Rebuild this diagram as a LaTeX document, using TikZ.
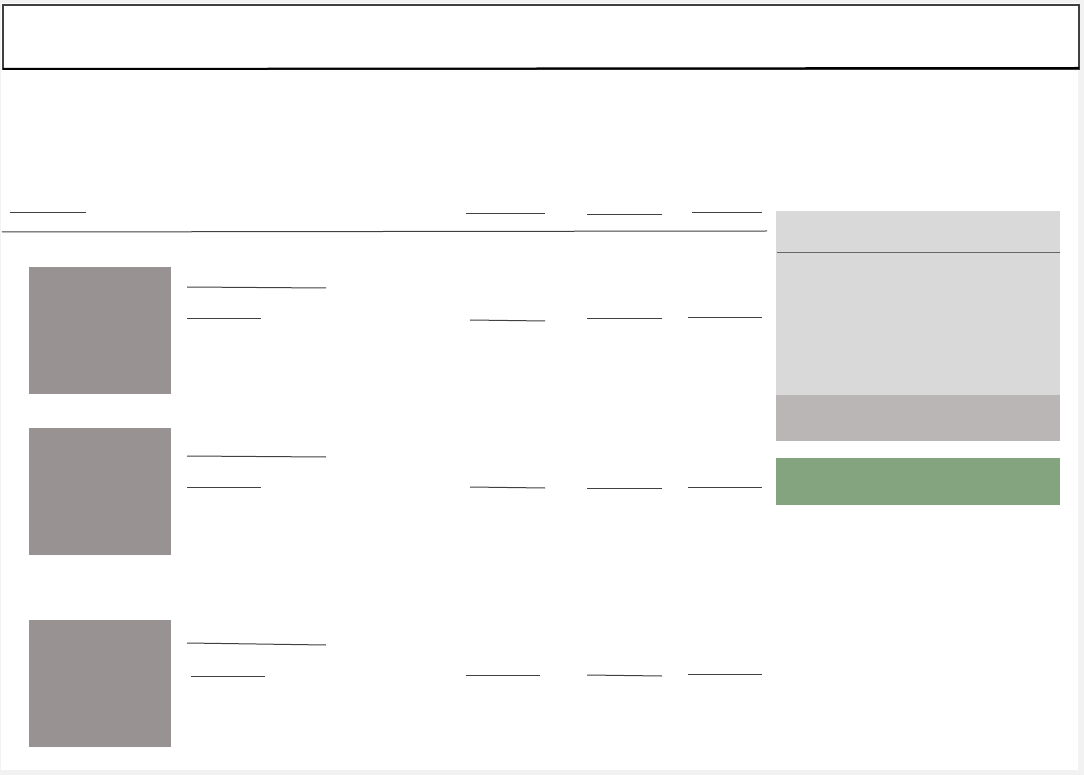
\documentclass[tikz,border=0pt]{standalone}
\definecolor{pagebg}{HTML}{F2F2F2}
\definecolor{thumb}{HTML}{989392}
\definecolor{panel}{HTML}{D9D9D9}
\definecolor{panelmid}{HTML}{BAB6B5}
\definecolor{panelgreen}{HTML}{84A480}
\definecolor{rule}{HTML}{404040}
\tikzset{
  rulel/.style={draw=rule, line width=1pt},
  thumbbox/.style={fill=thumb, draw=none},
}
\begin{document}
\begin{tikzpicture}[x=1pt,y=-1pt]
\useasboundingbox (0,0) rectangle (1084,775);
\fill[pagebg] (0,0) rectangle (1084,775);
\fill[white] (1,3) rectangle (1078,770);
% title box
\draw[draw=rule, line width=1.3pt] (3,5) rectangle (1079,69);
\draw[draw=black, line width=2pt] (3,69) -- (1079,68);
% header rules
\draw[rulel] (10,213) -- (86,213);
\draw[rulel] (466,214) -- (545,214);
\draw[rulel] (587,215) -- (662,215);
\draw[rulel] (692,213) -- (762,213);
\draw[rulel] (2,232) -- (767,231);
% right panel
\fill[panel] (776,211) rectangle (1060,395);
\draw[draw=rule!80, line width=1pt] (777,253) -- (1060,253);
\fill[panelmid] (776,395) rectangle (1060,441);
\fill[panelgreen] (776,458) rectangle (1060,505);
% thumbnails
\fill[thumbbox] (29,267) rectangle (171,394);
\fill[thumbbox] (29,428) rectangle (171,555);
\fill[thumbbox] (29,620) rectangle (171,747);
% row 1
\draw[rulel] (187,287) -- (326,288);
\draw[rulel] (187,319) -- (261,319);
\draw[rulel] (470,320) -- (545,321);
\draw[rulel] (587,319) -- (662,319);
\draw[rulel] (688,318) -- (762,318);
% row 2
\draw[rulel] (187,456) -- (326,457);
\draw[rulel] (187,487) -- (261,487);
\draw[rulel] (470,487) -- (545,488);
\draw[rulel] (587,488) -- (662,488);
\draw[rulel] (688,487) -- (762,487);
% row 3
\draw[rulel] (187,643) -- (326,645);
\draw[rulel] (191,676) -- (265,676);
\draw[rulel] (466,675) -- (540,675);
\draw[rulel] (587,675) -- (662,676);
\draw[rulel] (688,674) -- (762,674);
\end{tikzpicture}
\end{document}
